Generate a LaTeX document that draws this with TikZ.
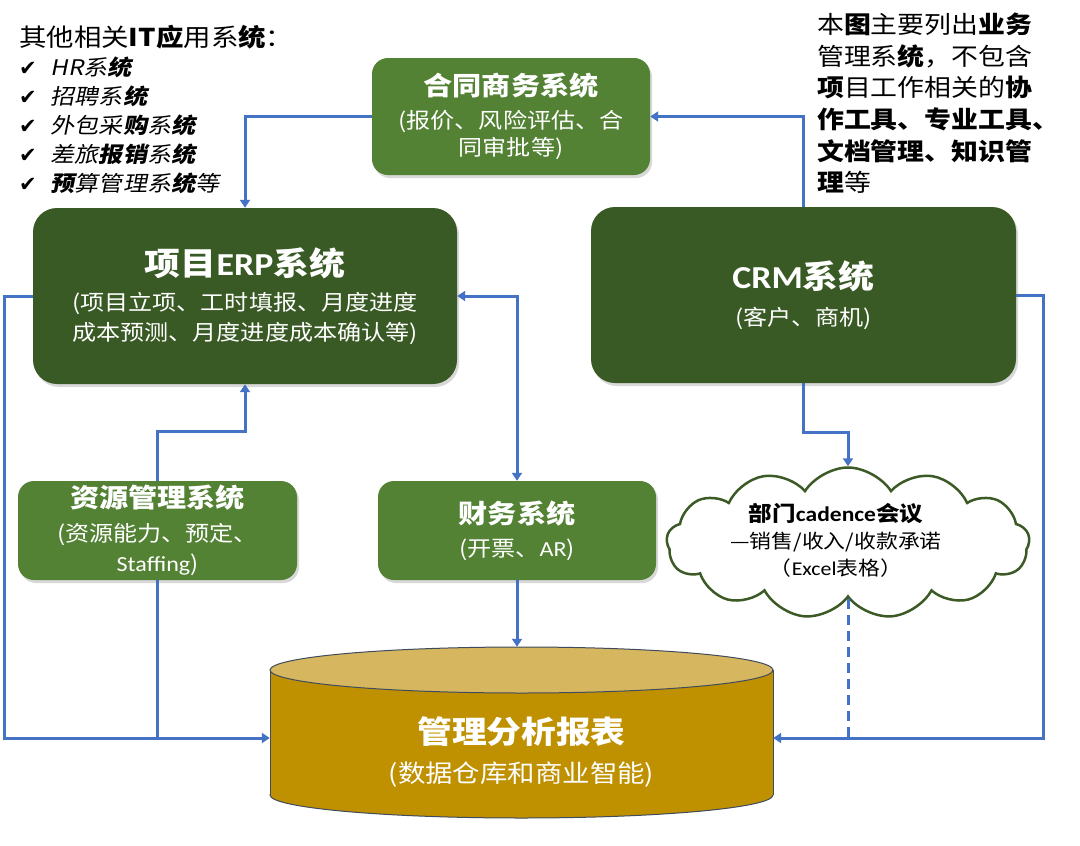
\documentclass[tikz,border=0pt]{standalone}
\usepackage{fontspec}
\setmainfont{Noto Sans CJK SC}[FakeStretch=1.12]
\newfontfamily\cjkit{Noto Sans CJK SC}[FakeSlant=0.2,FakeStretch=1.12]
\newfontfamily\latf{Carlito}[FakeStretch=1.12]
\newfontfamily\symf{DejaVu Sans}
\newcommand{\entxt}[1]{{\latf #1}}
\newcommand{\chk}[1]{{\symf\fontsize{21}{29}\selectfont ✔}\hspace{14pt}{\cjkit #1}}
\usetikzlibrary{arrows.meta,shapes.symbols,shadows,calc}
\definecolor{midgreen}{HTML}{548235}
\definecolor{darkgreen}{HTML}{3A5A25}
\definecolor{gold}{HTML}{BF9000}
\definecolor{goldtop}{HTML}{D6B65E}
\definecolor{linkblue}{HTML}{4472C4}
\definecolor{dbline}{HTML}{3F4B5E}
\definecolor{cloudline}{HTML}{3B5A26}
\begin{document}
\begin{tikzpicture}[x=1pt,y=-1pt,
  sysbox/.style={rounded corners=16pt, fill=midgreen, text=white, align=center, inner sep=0pt,
     drop shadow={opacity=0.3,shadow xshift=2pt,shadow yshift=-3pt}},
  bigbox/.style={sysbox, fill=darkgreen, rounded corners=24pt},
  link/.style={draw=linkblue, line width=3pt},
  arr/.style={link, -{Triangle[width=10pt,length=8pt]}},
  arrboth/.style={link, {Triangle[width=10pt,length=8pt]}-{Triangle[width=10pt,length=8pt]}},
  subfont/.style={font=\fontsize{21.5}{#1}\selectfont}
]
\useasboundingbox (0,0) rectangle (1080,846);
\fill[white] (0,0) rectangle (1080,846);

% notes
\node[anchor=north west, align=left, inner sep=0pt, font=\fontsize{21.5}{29}\selectfont] (others) at (19,25)
 {{\fontsize{24.5}{29}\selectfont 其他相关\textbf{IT应}用系\textbf{统}：}\\
  \chk{HR系\textbf{统}}\\
  \chk{招聘系\textbf{统}}\\
  \chk{外包采\textbf{购}系\textbf{统}}\\
  \chk{差旅\textbf{报销}系\textbf{统}}\\
  \chk{\textbf{预}算管理系\textbf{统}等}};

\node[anchor=north west, align=left, inner sep=0pt, font=\fontsize{24}{31.6}\selectfont] (scope) at (817,13)
 {本\textbf{图}主要列出\textbf{业务}\\
  管理系\textbf{统}，不包含\\
  \textbf{项}目工作相关的\textbf{协}\\
  \textbf{作工具、专业工具、}\\
  \textbf{文档管理、知识管}\\
  \textbf{理}等};

% boxes
\node[sysbox, minimum width=278pt, minimum height=117pt, subfont=27] (contract) at (511,116.5)
 {{\fontsize{26}{30}\selectfont\bfseries 合同商务系统}\\[6pt](报价、风险评估、合\\同审批等)};

\node[bigbox, minimum width=424pt, minimum height=176pt, subfont=30] (erp) at (245,296)
 {{\fontsize{32}{36}\selectfont\bfseries 项目\entxt{ERP}系统}\\[5pt](项目立项、工时填报、月度进度\\成本预测、月度进度成本确认等)};

\node[bigbox, minimum width=425pt, minimum height=176pt, subfont=30] (crm) at (803.5,295)
 {{\fontsize{32}{36}\selectfont\bfseries \entxt{CRM}系统}\\[7pt](客户、商机)};

\node[sysbox, minimum width=279pt, minimum height=99pt, subfont=30] (res) at (157.5,530.5)
 {{\fontsize{26}{30}\selectfont\bfseries 资源管理系统}\\[4pt](资源能力、预定、\\\entxt{Staffing})};

\node[sysbox, minimum width=278pt, minimum height=99pt, subfont=30] (fin) at (517,530.5)
 {{\fontsize{26}{30}\selectfont\bfseries 财务系统}\\[3pt](开票、\entxt{AR})};

% cloud
\node[cloud, cloud puffs=13, cloud puff arc=115, cloud ignores aspect, minimum width=363pt,
      minimum height=151pt, draw=cloudline, line width=2.5pt, fill=white, inner sep=0pt] (cloud) at (848,543) {};
\node[align=center, inner sep=0pt, font=\fontsize{19.5}{27}\selectfont] (cloudtext) at (836,540)
 {{\fontsize{21}{27}\selectfont\bfseries 部门\entxt{cadence}会议}\\—销售/收入/收款承诺\\（\entxt{Excel}表格）};

% cylinder
\node[minimum width=503pt, minimum height=182pt, inner sep=0pt] (db) at (521.5,738) {};
\filldraw[fill=gold, draw=dbline, line width=1pt] (521.5,795) ellipse [x radius=251.5, y radius=23];
\fill[gold] (270,670) rectangle (773,795);
\draw[dbline, line width=1pt] (270,670) -- (270,795) (773,670) -- (773,795);
\filldraw[fill=goldtop, draw=dbline, line width=1pt] (521.5,670) ellipse [x radius=251.5, y radius=23];
\node[text=white, align=center, inner sep=0pt, font=\fontsize{24.5}{39}\selectfont] (dbtext) at (521.5,752)
 {{\fontsize{31}{36}\selectfont\bfseries 管理分析报表}\\(数据仓库和商业智能)};

% connectors
\draw[arr] (crm.north) |- (contract.east);
\draw[arr] (contract.west) -| (erp.north);
\draw[arr] (erp.west) -- ++(-28,0) |- (db.west);
\draw[arr] (res.north) -- ++(0,-49) -| (erp.south);
\draw[link] (res.south) -- (res.south |- db.west);
\draw[arrboth] (erp.east) -| (fin.north);
\draw[arr] (fin.south) -- (fin.south |- db.north);
\draw[arr] (crm.south) -- ++(0,49) -| (cloud.north);
\draw[link, dash pattern=on 10pt off 6pt] (cloud.south) -- (cloud.south |- db.east);
\draw[arr] (crm.east) -- ++(27,0) |- (db.east);
\end{tikzpicture}
\end{document}
